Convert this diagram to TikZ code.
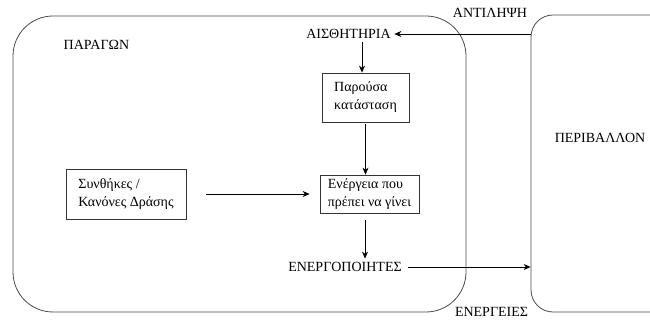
\documentclass[tikz,border=0pt]{standalone}
\usepackage{fontspec}
\setmainfont{Liberation Serif}
\usetikzlibrary{arrows.meta}
\begin{document}
\begin{tikzpicture}[x=1pt,y=-1pt,
  font=\fontsize{14}{18}\selectfont,
  region/.style={draw=black!70, line width=0.8pt, inner sep=0pt},
  stepbox/.style={draw=black!80, line width=0.8pt, align=left, inner sep=0pt},
  lbl/.style={inner sep=3.5pt},
  arr/.style={draw=black, line width=0.7pt, -{Stealth[length=7pt,width=6pt]}}]
  \clip (0,0) rectangle (650,320);
  \fill[white] (0,0) rectangle (650,320);

  % agent and environment regions
  \node[region, rounded corners=40pt, minimum width=453pt, minimum height=296pt] (agent) at (239.5,164) {};
  \node[region, rounded corners=22pt, minimum width=180pt, minimum height=297pt] (env) at (621,163.5) {};

  % labels
  \node[lbl, anchor=west] (paragon) at (60,45) {ΠΑΡΑΓΩΝ};
  \node[lbl] (aist) at (348.5,34) {ΑΙΣΘΗΤΗΡΙΑ};
  \node[lbl] (antil) at (490,13) {ΑΝΤΙΛΗΨΗ};
  \node[lbl] (energeies) at (491.5,312) {ΕΝΕΡΓΕΙΕΣ};
  \node[lbl] (act) at (345,267) {ΕΝΕΡΓΟΠΟΙΗΤΕΣ};
  \node[lbl] (periv) at (600,138) {ΠΕΡΙΒΑΛΛΟΝ};

  % boxes
  \node[stepbox, minimum width=87pt, minimum height=49pt] (pk) at (365.5,97.5) {Παρούσα\\κατάσταση};
  \node[stepbox, minimum width=99pt, minimum height=38pt] (en) at (369.5,194) {Ενέργεια που\\πρέπει να γίνει};
  \node[stepbox, minimum width=120pt, minimum height=50pt] (sk) at (126,194) {Συνθήκες /\\Κανόνες Δράσης};

  % connectors
  \draw[arr] (env.west |- aist.east) -- (aist.east);
  \draw[arr] ([xshift=13.5pt]aist.south) -- ([xshift=13.5pt]aist.south |- pk.north);
  \draw[arr] ([yshift=-2pt]pk.south) -- (pk.south |- en.north);
  \draw[arr] ([xshift=20pt]sk.east) -- ([xshift=-10pt]en.west);
  \draw[arr] ([xshift=-4.5pt,yshift=-7pt]en.south) -- ([xshift=-4.5pt]en.south |- act.north);
  \draw[arr] ([xshift=3pt]act.east) -- (act.east -| env.west);
\end{tikzpicture}
\end{document}
